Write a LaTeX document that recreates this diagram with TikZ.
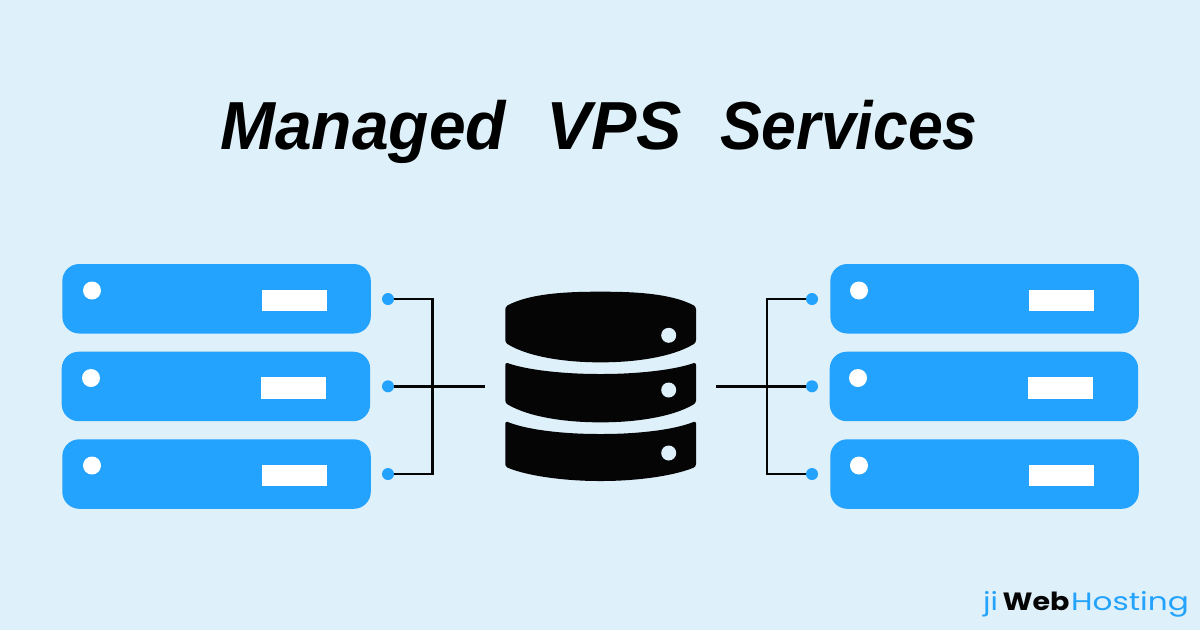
\documentclass[tikz,border=0pt]{standalone}
\usepackage{fontspec}
\setmainfont{Liberation Sans}
\newfontfamily\logofont{Poppins}
\definecolor{bgc}{HTML}{DEF0F9}
\definecolor{srv}{HTML}{23A3FD}
\definecolor{ink}{HTML}{050505}
\tikzset{
  x=1pt,y=-1pt,
  server/.style={fill=srv,rounded corners=17pt,minimum width=308.5pt,minimum height=69.5pt,inner sep=0pt,outer sep=0pt,anchor=north west},
  led/.style={circle,fill=white,minimum size=18pt,inner sep=0pt},
  slot/.style={fill=white,minimum width=65pt,minimum height=21.5pt,inner sep=0pt,anchor=north west},
  port/.style={circle,fill=srv,minimum size=12pt,inner sep=0pt,outer sep=0pt},
  wire/.style={draw=ink,line width=2.4pt},
  disc/.style={fill=ink,rounded corners=2.5pt},
  dbled/.style={circle,fill=bgc,minimum size=15pt,inner sep=0pt},
}
\begin{document}
\begin{tikzpicture}
\useasboundingbox (0,0) rectangle (1200,630);
\fill[bgc] (0,0) rectangle (1200,630);

\node[anchor=base,font=\bfseries\itshape\fontsize{68}{68}\selectfont,inner sep=0pt] (title) at (599,149) {\scalebox{.97}[1]{Managed}\hspace{40pt}\scalebox{1.0}[1]{VPS}\hspace{38pt}\scalebox{.92}[1]{Services}};

% left servers
\node[server] (L1) at (62.3,264) {};
\node[server] (L2) at (61.7,351.7) {};
\node[server] (L3) at (62.3,439.3) {};
\node[led] (L1a) at (92,290.5) {};
\node[led] (L2a) at (91,378) {};
\node[led] (L3a) at (92,465.5) {};
\node[slot] (L1b) at (261.5,289.3) {};
\node[slot] (L2b) at (260.7,377) {};
\node[slot] (L3b) at (261.5,464.4) {};
% right servers
\node[server] (R1) at (830.3,264) {};
\node[server] (R2) at (829.7,351.7) {};
\node[server] (R3) at (830.3,439.3) {};
\node[led] (R1a) at (859,290.5) {};
\node[led] (R2a) at (858,378) {};
\node[led] (R3a) at (859,465.5) {};
\node[slot] (R1b) at (1029,289.3) {};
\node[slot] (R2b) at (1028,377) {};
\node[slot] (R3b) at (1029,464.4) {};

% ports
\node[port] (pL1) at (388,299) {};
\node[port] (pL2) at (388,386.3) {};
\node[port] (pL3) at (388,474) {};
\node[port] (pR1) at (812,299) {};
\node[port] (pR2) at (812,386.3) {};
\node[port] (pR3) at (812,474) {};
\coordinate (dbL) at (485,386.3);
\coordinate (dbR) at (716,386.3);
\coordinate (busL) at (432.5,386.3);
\coordinate (busR) at (767,386.3);

\draw[wire,line join=miter] (pL1.east) -| (busL) |- (pL3.east);
\draw[wire] (pL2.east) -- (dbL);
\draw[wire,line join=miter] (pR1.west) -| (busR) |- (pR3.west);
\draw[wire] (pR2.west) -- (dbR);

% database
\fill[disc] (505.3,306.7) .. controls (530,293) and (570,291.7) .. (600.6,291.7) .. controls (631,291.7) and (671,293) .. (696,306.7) -- (696,342.7) .. controls (671,358) and (631,362.3) .. (600.6,362.3) .. controls (570,362.3) and (530,358) .. (505.3,342.7) -- cycle;
\fill[disc] (505.3,362.3) .. controls (530,371) and (570,374) .. (600.6,374) .. controls (631,374) and (671,371) .. (696,362.3) -- (696,403) .. controls (671,418) and (631,422.3) .. (600.6,422.3) .. controls (570,422.3) and (530,418) .. (505.3,403) -- cycle;
\fill[disc] (505.3,421) .. controls (530,431) and (570,434) .. (600.6,434) .. controls (631,434) and (671,431) .. (696,421) -- (696,466.7) .. controls (671,477) and (631,481) .. (600.6,481) .. controls (570,481) and (530,477) .. (505.3,466.7) -- cycle;
\node[dbled] (d1) at (668.7,335.3) {};
\node[dbled] (d2) at (668.7,390) {};
\node[dbled] (d3) at (668.7,453) {};

% logo
\node[anchor=base west,inner sep=0pt,text=srv,font=\logofont\fontsize{25}{25}\selectfont] (logoa) at (983,610) {\scalebox{1.2}[1]{ji}};
\node[anchor=base west,inner sep=0pt,text=ink,font=\logofont\bfseries\fontsize{25}{25}\selectfont] (logob) at (1002.5,610) {\scalebox{1.14}[1]{Web}};
\node[anchor=base west,inner sep=0pt,text=srv,font=\logofont\fontsize{25}{25}\selectfont] (logoc) at (1071,610) {\scalebox{1.245}[1]{Hosting}};
\end{tikzpicture}
\end{document}
